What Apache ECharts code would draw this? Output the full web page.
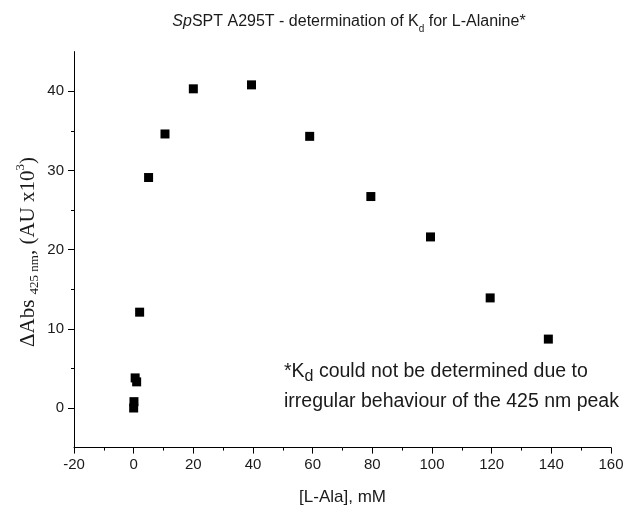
<!DOCTYPE html>
<html>
<head>
<meta charset="utf-8">
<script src="https://cdn.jsdelivr.net/npm/echarts@6/dist/echarts.min.js"></script>
<style>html,body{margin:0;padding:0;background:#fff}#c{width:627px;height:513px}</style>
</head>
<body>
<div id="c"></div>
<script>
// Data
var concentrations = [0, 0.1, 0.5, 1, 2, 5, 10.5, 20, 39.5, 59, 79.5, 99.5, 119.5, 139];
var deltaAbs = [0, 0.8, 3.8, 3.3, 12.1, 29.1, 34.6, 40.3, 40.8, 34.3, 26.7, 21.6, 13.9, 8.7];
var yMajorTicks = [0, 10, 20, 30, 40];
var yMinorTicks = [5, 15, 25, 35];

var points = concentrations.map(function (x, i) { return [x, deltaAbs[i]]; });
var textColor = '#1a1a1a';
var sans = 'Liberation Sans, Arial, sans-serif';
var serif = 'Liberation Serif, Times New Roman, serif';

var chart = echarts.init(document.getElementById('c'), null, {renderer: 'canvas'});
chart.setOption({
  animation: false,
  backgroundColor: '#fff',
  title: {
    text: '{it|Sp}{n|SPT A295T - determination of K}{sub|d}{n| for L-Alanine*}',
    left: 344, top: 5, textAlign: 'center',
    textStyle: {
      fontWeight: 'normal',
      rich: {
        it: {fontFamily: sans, fontSize: 16, fontStyle: 'italic', fontWeight: 'normal', color: textColor, lineHeight: 24, verticalAlign: 'middle'},
        n: {fontFamily: sans, fontSize: 16, fontWeight: 'normal', color: textColor, lineHeight: 24, verticalAlign: 'middle'},
        sub: {fontFamily: sans, fontSize: 10, fontWeight: 'normal', color: textColor, lineHeight: 10, verticalAlign: 'bottom'}
      }
    }
  },
  grid: {left: 74, right: 16, top: 51.6, bottom: 65.4, containLabel: false},
  xAxis: {
    type: 'value', min: -20, max: 160, interval: 20,
    name: '[L-Ala], mM', nameLocation: 'middle', nameGap: 41,
    nameTextStyle: {fontFamily: sans, fontSize: 17, color: textColor},
    axisLine: {show: true, onZero: false, lineStyle: {color: '#000', width: 1}},
    axisTick: {show: true, inside: false, length: 6, lineStyle: {color: '#000'}},
    minorTick: {show: true, splitNumber: 2, length: 3, lineStyle: {color: '#000'}},
    axisLabel: {fontFamily: sans, fontSize: 15, color: textColor, margin: 10},
    splitLine: {show: false}
  },
  yAxis: [{
    type: 'value', min: -5, max: 45,
    axisLine: {show: true, onZero: false, lineStyle: {color: '#000', width: 1}},
    axisTick: {show: true, inside: false, length: 6, customValues: yMajorTicks, lineStyle: {color: '#000'}},
    axisLabel: {fontFamily: sans, fontSize: 15, color: textColor, margin: 10, customValues: yMajorTicks},
    splitLine: {show: false}
  }, {
    type: 'value', min: -5, max: 45, position: 'left',
    axisLine: {show: false, onZero: false},
    axisTick: {show: true, inside: false, length: 3, customValues: yMinorTicks, lineStyle: {color: '#000'}},
    axisLabel: {show: false},
    splitLine: {show: false}
  }],
  graphic: [{
    type: 'text', x: 28, y: 252, rotation: Math.PI / 2,
    style: {
      text: '{n|ΔAbs }{sub|425 nm}{n|, (AU x10}{sup|3}{n|)}',
      align: 'center', verticalAlign: 'middle',
      rich: {
        n: {fontFamily: serif, fontSize: 21, fill: textColor, lineHeight: 27, verticalAlign: 'middle'},
        sub: {fontFamily: serif, fontSize: 13, fill: textColor, lineHeight: 13, verticalAlign: 'bottom'},
        sup: {fontFamily: serif, fontSize: 13, fill: textColor, lineHeight: 13, verticalAlign: 'top'}
      }
    }
  }, {
    type: 'text', left: 284, top: 362,
    style: {
      text: '{n|*K}{sub|d}{n| could not be determined due to}',
      rich: {
        n: {fontFamily: sans, fontSize: 19.5, fill: textColor, lineHeight: 26, verticalAlign: 'middle'},
        sub: {fontFamily: sans, fontSize: 16, fill: textColor, lineHeight: 16, verticalAlign: 'bottom'}
      }
    }
  }, {
    type: 'text', left: 284, top: 392,
    style: {text: 'irregular behaviour of the 425 nm peak', fontFamily: sans, fontSize: 19.5, fill: textColor}
  }],
  series: [{
    type: 'scatter', data: points, symbol: 'rect', symbolSize: 9,
    itemStyle: {color: '#000', opacity: 1}, yAxisIndex: 0
  }]
});
</script>
</body>
</html>
